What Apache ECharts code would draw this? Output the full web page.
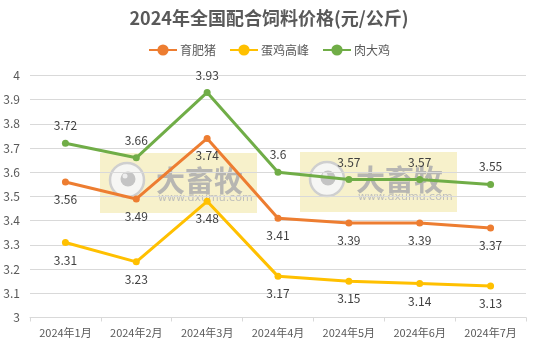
<!DOCTYPE html>
<html>
<head>
<meta charset="utf-8">
<script src="https://cdn.jsdelivr.net/npm/echarts@6/dist/echarts.min.js"></script>
<style>
  html, body { margin: 0; padding: 0; background: #fff; }
  #chart { width: 538px; height: 347px; }
</style>
</head>
<body>
<div id="chart"></div>
<script>
// Monthly categories
const months = ['2024年1月', '2024年2月', '2024年3月', '2024年4月', '2024年5月', '2024年6月', '2024年7月'];
// Feed prices, yuan per kg
const pigFinishing = [3.56, 3.49, 3.74, 3.41, 3.39, 3.39, 3.37];
const layerPeak = [3.31, 3.23, 3.48, 3.17, 3.15, 3.14, 3.13];
const broiler = [3.72, 3.66, 3.93, 3.6, 3.57, 3.57, 3.55];
const seriesNames = ['育肥猪', '蛋鸡高峰', '肉大鸡'];

const FONT = '"Noto Sans CJK SC", "Noto Sans", sans-serif';
const chart = echarts.init(document.getElementById('chart'), null, { renderer: 'canvas' });

function makeSeries(name, data, color, pos) {
  return {
    name: name,
    type: 'line',
    data: data,
    symbol: 'circle',
    symbolSize: 7,
    lineStyle: { width: 3, color: color },
    itemStyle: { color: color },
    z: 3,
    label: {
      show: true,
      position: pos,
      distance: 8,
      color: '#404040',
      fontSize: 12,
      fontFamily: FONT
    }
  };
}

// Brand watermark blocks
function watermark(x, y) {
  return {
    type: 'group',
    left: x, top: y,
    z: 1,
    children: [
      { type: 'rect', shape: { x: 0, y: 0, width: 157, height: 60 }, style: { fill: 'rgba(240,230,160,0.55)' } },
      { type: 'circle', shape: { cx: 27, cy: 27, r: 17 }, style: { fill: 'rgba(246,246,246,0.95)', stroke: '#cfcfcf', lineWidth: 2.5 } },
      { type: 'circle', shape: { cx: 28, cy: 26, r: 7.5 }, style: { fill: '#c4c4c4' } },
      { type: 'circle', shape: { cx: 25, cy: 23, r: 2.5 }, style: { fill: '#eeeeee' } },
      { type: 'text', style: { x: 56, y: 13, text: '大畜牧', fill: 'rgba(175,175,175,0.9)', font: 'bold 29px ' + FONT } },
      { type: 'text', style: { x: 58, y: 40, text: 'www.dxumu.com', fill: 'rgba(185,185,185,0.9)', font: '11px "DejaVu Sans", sans-serif' } }
    ]
  };
}

chart.setOption({
  animation: false,
  backgroundColor: '#fff',
  color: ['#ED7D31', '#FFC000', '#70AD47'],
  title: {
    text: '2024年全国配合饲料价格(元/公斤)',
    left: 'center',
    top: 4,
    textStyle: { fontSize: 18, fontWeight: 'bold', color: '#595959', fontFamily: FONT }
  },
  legend: {
    data: seriesNames,
    top: 39,
    left: 'center',
    itemWidth: 28,
    itemHeight: 14,
    itemGap: 13,
    textStyle: { fontSize: 12, color: '#595959', fontFamily: FONT, padding: [0, 0, 0, -2] }
  },
  grid: { left: 30, right: 12, top: 75.5, bottom: 29.5, containLabel: false },
  xAxis: {
    type: 'category',
    data: months,
    boundaryGap: true,
    axisLine: { lineStyle: { color: '#d9d9d9' } },
    axisTick: { show: true, alignWithLabel: false, length: 4, lineStyle: { color: '#d9d9d9' } },
    axisLabel: { color: '#595959', fontSize: 11, fontFamily: FONT, margin: 10 }
  },
  yAxis: {
    type: 'value',
    min: 3,
    max: 4,
    interval: 0.1,
    axisLine: { show: false },
    axisTick: { show: false },
    axisLabel: { color: '#595959', fontSize: 12, fontFamily: FONT, margin: 10 },
    splitLine: { lineStyle: { color: '#d9d9d9' } }
  },
  graphic: [watermark(100, 153), watermark(300, 152)],
  series: [
    makeSeries(seriesNames[0], pigFinishing, '#ED7D31', 'bottom'),
    makeSeries(seriesNames[1], layerPeak, '#FFC000', 'bottom'),
    makeSeries(seriesNames[2], broiler, '#70AD47', 'top')
  ]
});
</script>
</body>
</html>
